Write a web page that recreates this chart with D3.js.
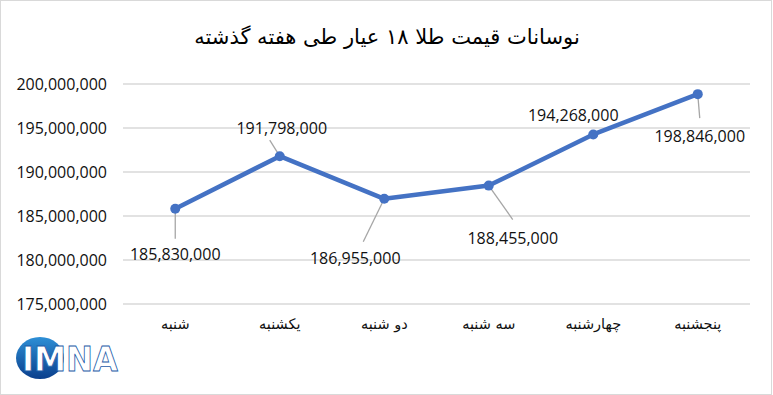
<!DOCTYPE html>
<html><head><meta charset="utf-8">
<script src="https://cdn.jsdelivr.net/npm/d3@7"></script>
<style>body{margin:0;background:#fff}svg{display:block}</style>
</head><body>
<svg id="c" width="773" height="395"></svg>
<script>
const title = "نوسانات قیمت طلا ۱۸ عیار طی هفته گذشته";
const categories = ["شنبه","یکشنبه","دو شنبه","سه شنبه","چهارشنبه","پنجشنبه"];
const values = [185830000,191798000,186955000,188455000,194268000,198846000];
const yTicks = [175000000,180000000,185000000,190000000,195000000,200000000];
// label placement per point: dx, dy of label center relative to point, and leader end
const labelPos = [
  {dx:0, dy:46, lx:0, ly:30},
  {dx:2, dy:-28, lx:-10, ly:-16},
  {dx:-29, dy:60, lx:-21, ly:43},
  {dx:24, dy:53, lx:24, ly:34},
  {dx:-20, dy:-19, lx:null, ly:null},
  {dx:2, dy:42, lx:2, ly:24}
];

const svg = d3.select("#c");
const font = "'Open Sans', 'Liberation Sans', sans-serif";
const textCol = "#111";

svg.append("rect").attr("x",0.5).attr("y",0.5).attr("width",771).attr("height",394)
  .attr("fill","#fff").attr("stroke","#d9d9d9");

const x = d3.scaleBand().domain(categories).range([123,750]);
const y = d3.scaleLinear().domain([175000000,200000000]).range([304,84]);

svg.append("text").attr("x",387).attr("y",44).attr("text-anchor","middle")
  .attr("font-family","Tahoma, 'DejaVu Sans', sans-serif").attr("font-size",21).attr("fill","#000")
  .text(title);

// gridlines
svg.append("g").selectAll("line").data(yTicks).join("line")
  .attr("x1",123).attr("x2",750).attr("y1",d=>y(d)).attr("y2",d=>y(d))
  .attr("stroke","#d9d9d9").attr("stroke-width",1.3);

// y axis labels
const yAxis = d3.axisLeft(y).tickValues(yTicks).tickSize(0).tickPadding(0)
  .tickFormat(d3.format(","));
const ga = svg.append("g").attr("transform","translate(107,0)").call(yAxis);
ga.select(".domain").remove();
ga.selectAll("text").attr("font-family",font).attr("font-size",16).attr("fill",textCol).attr("dy","0.35em");

// x axis labels
const xAxis = d3.axisBottom(x).tickSize(0).tickPadding(0);
const gx = svg.append("g").attr("transform","translate(0,319)").call(xAxis);
gx.select(".domain").remove();
gx.selectAll("text").attr("font-family","Tahoma, 'DejaVu Sans', sans-serif").attr("font-size",14.5).attr("fill",textCol).attr("dy","0.71em");

const cx = (c)=>x(c)+x.bandwidth()/2;
const pts = categories.map((c,i)=>({c, v:values[i], px:cx(c), py:y(values[i]), lp:labelPos[i]}));

// leader lines
svg.append("g").selectAll("line").data(pts.filter(p=>p.lp.lx!==null)).join("line")
  .attr("x1",p=>p.px).attr("y1",p=>p.py)
  .attr("x2",p=>p.px+p.lp.lx).attr("y2",p=>p.py+p.lp.ly)
  .attr("stroke","#a6a6a6").attr("stroke-width",1.3);

// line
svg.append("path").datum(pts)
  .attr("d",d3.line().x(p=>p.px).y(p=>p.py))
  .attr("fill","none").attr("stroke","#4472c4").attr("stroke-width",4.5).attr("stroke-linejoin","round");

svg.append("g").selectAll("circle").data(pts).join("circle")
  .attr("cx",p=>p.px).attr("cy",p=>p.py).attr("r",5).attr("fill","#4472c4");

// data labels
svg.append("g").selectAll("text").data(pts).join("text")
  .attr("x",p=>p.px+p.lp.dx).attr("y",p=>p.py+p.lp.dy).attr("dy","0.35em")
  .attr("text-anchor","middle").attr("font-family",font).attr("font-size",16).attr("fill",textCol)
  .text(p=>d3.format(",")(p.v));

// logo
const defs = svg.append("defs");
const lg = defs.append("linearGradient").attr("id","lg").attr("x1","0").attr("y1","0").attr("x2","0").attr("y2","1");
lg.append("stop").attr("offset","0%").attr("stop-color","#2d8fd6");
lg.append("stop").attr("offset","100%").attr("stop-color","#0b3f8c");
const logo = svg.append("g");
logo.append("ellipse").attr("cx",40).attr("cy",358).attr("rx",24).attr("ry",21).attr("fill","url(#lg)");
logo.append("text").attr("x",22).attr("y",371).attr("font-family","'DejaVu Sans', sans-serif")
  .attr("font-weight","bold").attr("font-size",33).attr("fill","#fff").attr("stroke","#1a5aa8").attr("stroke-width",0.8)
  .attr("textLength",96).attr("lengthAdjust","spacingAndGlyphs").text("IMNA");
</script>
</body></html>
